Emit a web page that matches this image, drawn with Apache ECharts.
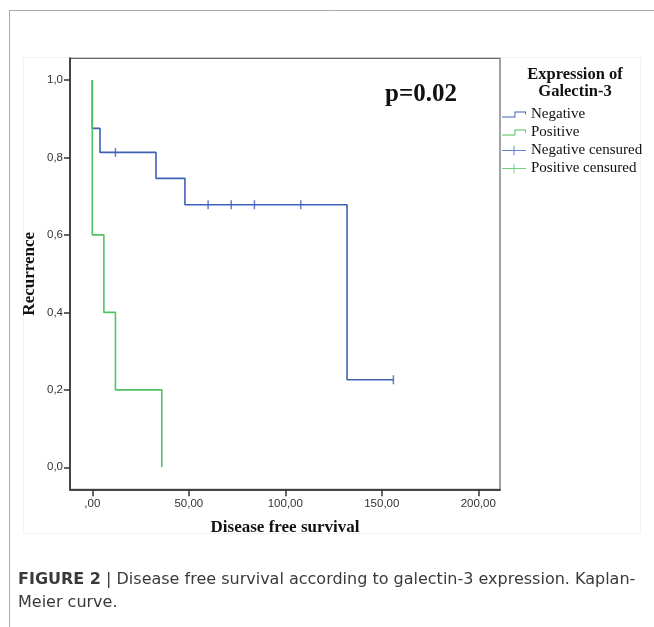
<!DOCTYPE html>
<html><head><meta charset="utf-8">
<script src="https://cdn.jsdelivr.net/npm/echarts@6/dist/echarts.min.js"></script>
<style>html,body{margin:0;padding:0;background:#fff;}#c{width:654px;height:627px;}</style>
</head><body><div id="c"></div>
<script>
// Kaplan-Meier data (time, cumulative proportion)
var negTime = [0, 0, 4, 33, 48, 132, 156];
var negSurv = [1.0, 0.875, 0.813, 0.746, 0.678, 0.226, 0.226];
var negCensorTime = [12, 60, 72, 84, 108, 156];
var negCensorSurv = [0.813, 0.678, 0.678, 0.678, 0.678, 0.226];
var posTime = [0, 0, 6, 12, 36];
var posSurv = [1.0, 0.6, 0.4, 0.2, 0.0];
var posCensorTime = [];
var posCensorSurv = [];
var xTicks = [0, 50, 100, 150, 200];
var yTicks = [0, 0.2, 0.4, 0.6, 0.8, 1.0];
var seriesNames = ['Negative', 'Positive', 'Negative censured', 'Positive censured'];

var BLUE = '#4060b8', GREEN = '#50c260';
function zip(a, b) { return a.map(function (v, i) { return [v, b[i]]; }); }
function fmt(v, d) { var s = v.toFixed(d).replace('.', ','); return s.indexOf('0,') === 0 && d === 2 ? s.slice(1) : s; }

var stepIcon = 'path://M0,5 L13,5 L13,0 L25,0 L25,3 L24,3 L24,1 L14,1 L14,6 L0,6 Z';
var crossIcon = 'path://M0,4.5 L12,4.5 L12,0 L13,0 L13,4.5 L25,4.5 L25,5.5 L13,5.5 L13,10 L12,10 L12,5.5 L0,5.5 Z';

var chart = echarts.init(document.getElementById('c'), null, {renderer: 'canvas'});
chart.setOption({
  animation: false,
  backgroundColor: '#fff',
  grid: {left: 70, top: 58.3, right: 154, bottom: 137.7, show: true, borderColor: '#666', borderWidth: 1.2, containLabel: false},
  xAxis: {
    type: 'value', min: -11.55, max: 211.24,
    name: 'Disease free survival', nameLocation: 'middle', nameGap: 30,
    nameTextStyle: {fontFamily: 'Liberation Serif', fontWeight: 'bold', fontSize: 17, color: '#111'},
    splitLine: {show: false},
    axisLine: {show: true, onZero: false, lineStyle: {color: '#444', width: 2}},
    axisTick: {show: true, length: 7, customValues: xTicks, lineStyle: {color: '#333', width: 1.5}},
    axisLabel: {customValues: xTicks, margin: 9, fontFamily: 'Liberation Sans', fontSize: 11.5, color: '#333',
      formatter: function (v) { return fmt(v, 2); }}
  },
  yAxis: {
    type: 'value', min: -0.0568, max: 1.056,
    name: 'Recurrence', nameLocation: 'middle', nameGap: 32, nameRotate: 90, nameMoveOverlap: false,
    nameTextStyle: {fontFamily: 'Liberation Serif', fontWeight: 'bold', fontSize: 17, color: '#111'},
    splitLine: {show: false},
    axisLine: {show: true, onZero: false, lineStyle: {color: '#444', width: 2}},
    axisTick: {show: true, length: 6, customValues: yTicks, lineStyle: {color: '#333', width: 1.5}},
    axisLabel: {customValues: yTicks, margin: 7, fontFamily: 'Liberation Sans', fontSize: 11.5, color: '#333',
      formatter: function (v) { return fmt(v, 1); }}
  },
  legend: {
    orient: 'vertical', left: 502, top: 106.5, padding: 0, itemWidth: 24, itemHeight: 10, itemGap: 2,
    symbolKeepAspect: true, selectedMode: false,
    itemStyle: {borderWidth: 0},
    textStyle: {fontFamily: 'Liberation Serif', fontSize: 15, color: '#111', lineHeight: 16},
    data: [
      {name: seriesNames[0], icon: stepIcon},
      {name: seriesNames[1], icon: stepIcon},
      {name: seriesNames[2], icon: crossIcon},
      {name: seriesNames[3], icon: crossIcon}
    ]
  },
  series: [
    {name: seriesNames[0], type: 'line', step: 'end', data: zip(negTime, negSurv), showSymbol: false, symbol: 'none',
      color: BLUE, lineStyle: {color: BLUE, width: 1.6}, itemStyle: {color: BLUE}},
    {name: seriesNames[1], type: 'line', step: 'end', data: zip(posTime, posSurv), showSymbol: false, symbol: 'none',
      color: GREEN, lineStyle: {color: GREEN, width: 1.6}, itemStyle: {color: GREEN}},
    {name: seriesNames[2], type: 'scatter', data: zip(negCensorTime, negCensorSurv), symbol: 'rect', symbolSize: [1.5, 9],
      color: BLUE, itemStyle: {color: BLUE}},
    {name: seriesNames[3], type: 'scatter', data: zip(posCensorTime, posCensorSurv), symbol: 'rect', symbolSize: [1.5, 9],
      color: GREEN, itemStyle: {color: GREEN}}
  ],
  graphic: [
    {type: 'line', shape: {x1: 9, y1: 10.5, x2: 654, y2: 10.5}, style: {stroke: '#aaa', lineWidth: 1}, silent: true},
    {type: 'line', shape: {x1: 9.5, y1: 10, x2: 9.5, y2: 627}, style: {stroke: '#aaa', lineWidth: 1}, silent: true},
    {type: 'rect', shape: {x: 23.5, y: 57.5, width: 617, height: 476}, style: {fill: 'none', stroke: '#f2f2f2', lineWidth: 1}, silent: true, z: -1},
    {type: 'text', x: 421, y: 95, style: {text: 'p=0.02', fontFamily: 'Liberation Serif', fontWeight: 'bold', fontSize: 25, fill: '#111', align: 'center', verticalAlign: 'middle'}},
    {type: 'text', x: 575, y: 75, style: {text: 'Expression of', fontFamily: 'Liberation Serif', fontWeight: 'bold', fontSize: 16.5, fill: '#111', align: 'center', verticalAlign: 'middle'}},
    {type: 'text', x: 575, y: 92, style: {text: 'Galectin-3', fontFamily: 'Liberation Serif', fontWeight: 'bold', fontSize: 16.5, fill: '#111', align: 'center', verticalAlign: 'middle'}},
    {type: 'text', x: 18, y: 580, style: {
      text: '{b|FIGURE 2} | Disease free survival according to galectin-3 expression. Kaplan-',
      fontFamily: 'DejaVu Sans', fontSize: 16, fill: '#3a3a3a', verticalAlign: 'middle',
      rich: {b: {fontFamily: 'DejaVu Sans', fontWeight: 'bold', fontSize: 16, fill: '#3a3a3a'}}}},
    {type: 'text', x: 18, y: 603, style: {text: 'Meier curve.', fontFamily: 'DejaVu Sans', fontSize: 16, fill: '#3a3a3a', verticalAlign: 'middle'}}
  ]
});
</script></body></html>
